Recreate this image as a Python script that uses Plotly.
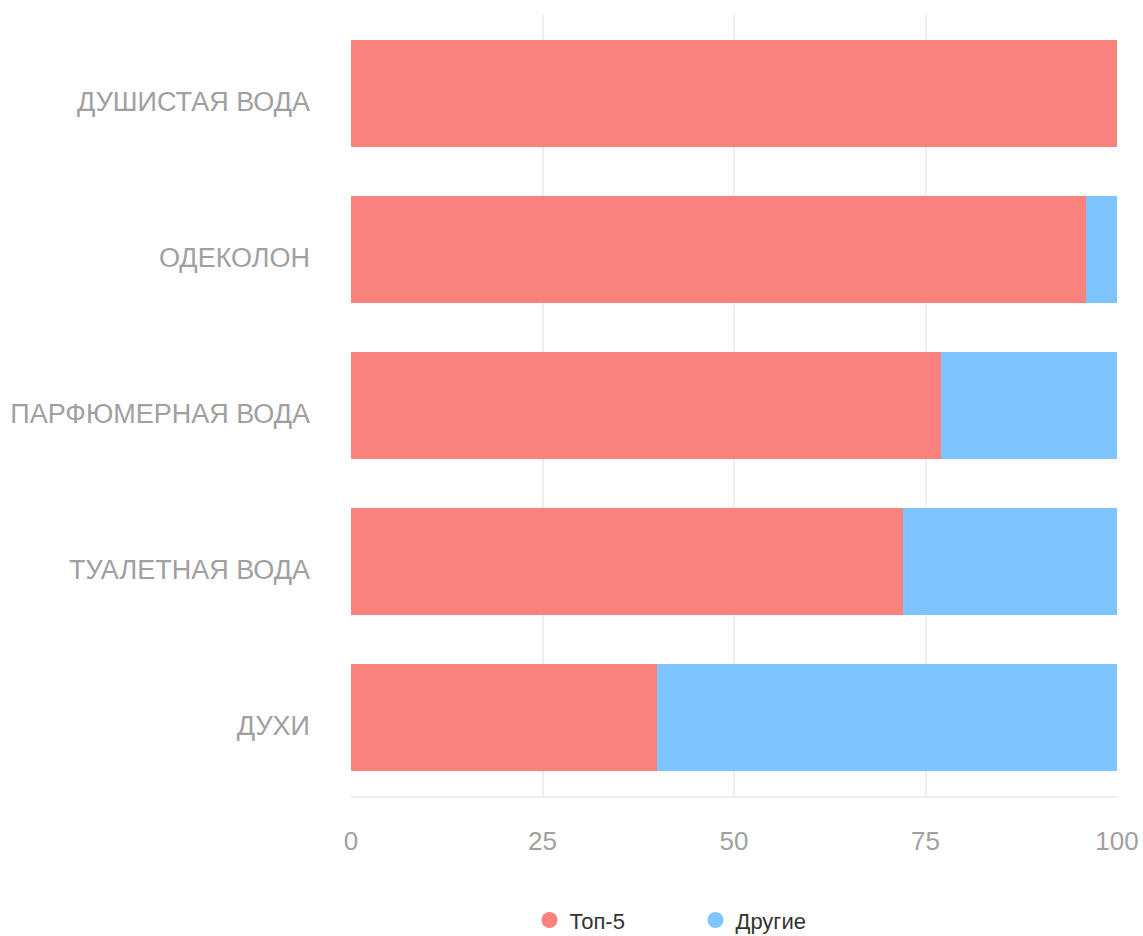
import plotly.graph_objects as go

categories = ["ДУШИСТАЯ ВОДА", "ОДЕКОЛОН", "ПАРФЮМЕРНАЯ ВОДА", "ТУАЛЕТНАЯ ВОДА", "ДУХИ"]
top5 = [100, 96, 77, 72, 40]
others = [0, 4, 23, 28, 60]
series_names = ["Топ-5", "Другие"]
colors = ["#FA827D", "#7EC4FE"]
x_ticks = [0, 25, 50, 75, 100]

fig = go.Figure()
for name, vals, col in zip(series_names, [top5, others], colors):
    fig.add_trace(go.Bar(y=categories, x=vals, orientation="h", name=name,
                         marker=dict(color=col, line=dict(width=0)),
                         showlegend=False, hoverinfo="x+y+name"))
for name, col in zip(series_names, colors):
    fig.add_trace(go.Scatter(x=[None], y=[None], mode="markers", name=name,
                             marker=dict(symbol="circle", size=20, color=col),
                             showlegend=True))

fig.update_layout(
    barmode="stack",
    bargap=0.316,
    width=1143, height=936,
    margin=dict(l=351, r=26, t=15, b=140, autoexpand=False),
    paper_bgcolor="white", plot_bgcolor="white",
    font=dict(family="Liberation Sans, Arial, sans-serif", color="#999999"),
    legend=dict(orientation="h", x=0.233, xanchor="left", y=-0.159, yanchor="middle",
                traceorder="normal",
                font=dict(size=22, color="#333333"), entrywidth=121, entrywidthmode="pixels",
                itemsizing="trace"),
    xaxis=dict(range=[0, 100], tickvals=x_ticks, showgrid=True, gridcolor="#EEEEEE",
               gridwidth=1.5, zeroline=False, showline=True, linecolor="#EEEEEE", linewidth=2,
               tickfont=dict(size=26, color="#A0A0A0"), ticks="", ticklabelstandoff=21),
    yaxis=dict(categoryorder="array", categoryarray=categories, autorange="reversed",
               showgrid=False, zeroline=False, showline=False, ticks="",
               tickfont=dict(size=27, color="#A0A0A0"), ticklabelstandoff=40,
               ticklabelshift=-8),
)

fig.write_html("out.html")
